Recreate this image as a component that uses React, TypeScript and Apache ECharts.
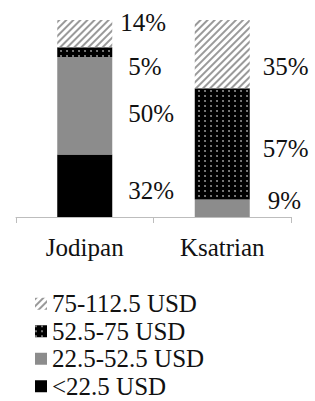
import React, { useEffect, useRef } from "react";
import * as echarts from "echarts";

const categories = ["Jodipan", "Ksatrian"];
const seriesNames = ["<22.5 USD", "22.5-52.5 USD", "52.5-75 USD", "75-112.5 USD"];
const lowValues = [32, null];
const midValues = [50, 9];
const highValues = [5, 57];
const topValues = [14, 35];

// label placement tweaks (style only): [distance, dy] per category
const lowLabelPos = [[16, 5], [0, 0]];
const midLabelPos = [[16, 8], [18, -8]];
const highLabelPos = [[16, 14], [13, 5]];
const topLabelPos = [[8, -11], [13, 12]];

const FONT = "'Liberation Serif', 'Times New Roman', serif";

function buildData(values: (number | null)[], pos: number[][]) {
  return values.map((v, i) =>
    v === null
      ? "-"
      : {
          value: v,
          label: {
            show: true,
            position: "right",
            distance: pos[i][0],
            offset: [0, pos[i][1]],
            formatter: "{c}%",
            fontSize: 25,
            fontFamily: FONT,
            color: "#111",
          },
        }
  );
}

export default function App() {
  const ref = useRef<HTMLDivElement>(null);
  useEffect(() => {
    if (!ref.current) return;
    const chart = echarts.init(ref.current, null, { renderer: "svg" });
    const common = { type: "bar", stack: "total", barWidth: 55 };
    chart.setOption({
      animation: false,
      backgroundColor: "#fff",
      grid: { left: 16, right: 24, top: 20, bottom: 401 - 217 },
      legend: {
        orient: "vertical",
        left: 35,
        top: 290,
        height: 111,
        padding: 0,
        itemWidth: 12,
        itemHeight: 12,
        itemGap: 0,
        icon: "rect",
        data: [seriesNames[3], seriesNames[2], seriesNames[1], seriesNames[0]],
        textStyle: { fontSize: 25, fontFamily: FONT, color: "#111", lineHeight: 27.5 },
      },
      xAxis: {
        type: "category",
        data: categories,
        axisLine: { lineStyle: { color: "#bdbdbd", width: 1 } },
        axisTick: { show: true, length: 6, lineStyle: { color: "#bdbdbd" } },
        axisLabel: { fontSize: 25, fontFamily: FONT, color: "#111", margin: 18 },
      },
      yAxis: { type: "value", min: 0, max: 101, show: false, splitLine: { show: false } },
      series: [
        {
          ...common,
          name: seriesNames[0],
          itemStyle: { color: "#000" },
          data: buildData(lowValues, lowLabelPos),
        },
        {
          ...common,
          name: seriesNames[1],
          itemStyle: { color: "#8c8c8c" },
          data: buildData(midValues, midLabelPos),
        },
        {
          ...common,
          name: seriesNames[2],
          itemStyle: {
            color: "#000",
            decal: {
              symbol: "circle",
              color: "#b5b5b5",
              symbolSize: 0.8,
              dashArrayX: [2, 4],
              dashArrayY: [2, 2.5],
            },
          },
          data: buildData(highValues, highLabelPos),
        },
        {
          ...common,
          name: seriesNames[3],
          itemStyle: {
            color: "#fff",
            decal: {
              symbol: "rect",
              color: "#9a9a9a",
              dashArrayX: [1, 0],
              dashArrayY: [1.5, 2.5],
              rotation: -Math.PI / 4,
            },
          },
          data: buildData(topValues, topLabelPos),
        },
      ],
    });
    return () => chart.dispose();
  }, []);
  return (
    <div
      ref={ref}
      style={{ position: "fixed", left: 0, top: 0, width: 315, height: 401 }}
    />
  );
}
